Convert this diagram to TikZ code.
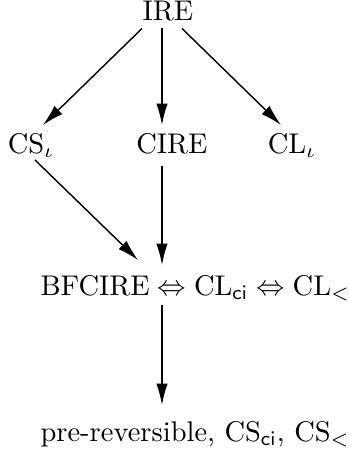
\documentclass[tikz,border=0pt]{standalone}
\usetikzlibrary{arrows.meta,calc}
\begin{document}
\begin{tikzpicture}[x=0.351pt,y=-0.351pt,
  lbl/.style={inner sep=0pt,anchor=base},
  row/.style={inner sep=0pt,anchor=base west},
  impl/.style={-{Latex[length=7.5pt,width=4pt]},line width=0.5pt}]
	\useasboundingbox (0,0) rectangle (349,453);
	% Nodes:
	\node[lbl] (ire) at (168,20.5) {IRE};
	\node[lbl] (cs) at (31,153) {CS$_\iota$};
	\node[lbl] (cire) at (172,153) {CIRE};
	\node[lbl] (cl) at (292,153) {CL$_\iota$};
	\node[row] (bf) at (40,295) {$\mathrm{BFCIRE}\Leftrightarrow\mathrm{CL}_{\mathsf{ci}}\Leftrightarrow\mathrm{CL}_<$};
	\node[row] (pre) at (40,441) {pre-reversible, CS$_{\mathsf{ci}}$, CS$_<$};
	% Implications:
	\draw[impl] ($(ire.base)+(-26,8)$) -- ($(cs.base)+(12,-28)$);
	\draw[impl] ($(ire.base)+(-6,7)$) -- ($(cire.base)+(-10,-28)$);
	\draw[impl] ($(ire.base)+(14,8)$) -- ($(cl.base)+(-11,-28)$);
	\draw[impl] ($(cs.base)+(4,7)$) -- ($(bf.base west)+(98,-35)$);
	\draw[impl] ($(cire.base)+(-10,13)$) -- ($(bf.base west)+(122,-30)$);
	\draw[impl] ($(bf.base west)+(122,10)$) -- ($(pre.base west)+(122,-36)$);
\end{tikzpicture}
\end{document}
